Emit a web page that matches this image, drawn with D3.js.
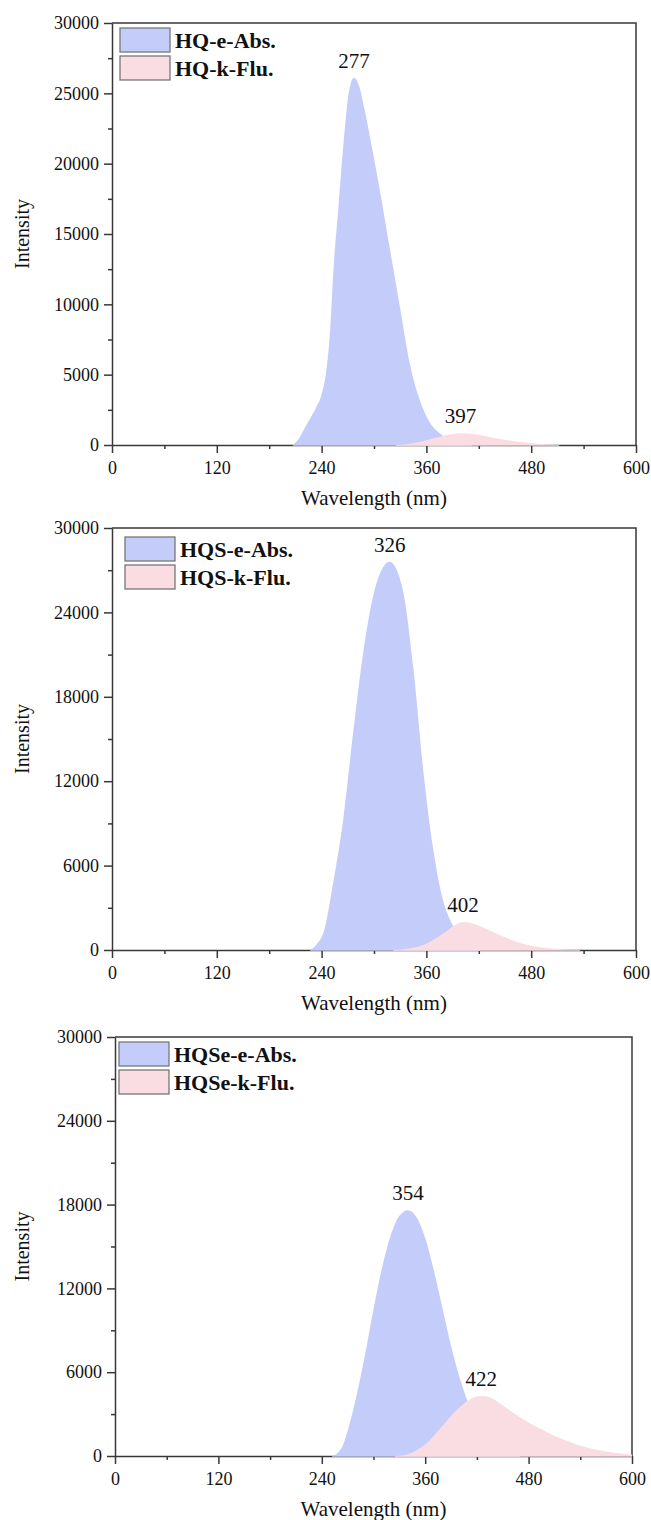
<!DOCTYPE html>
<html>
<head>
<meta charset="utf-8">
<script src="https://cdn.jsdelivr.net/npm/d3@7"></script>
<style>
    body { margin: 0; background: #fff; }
    svg { display: block; }
    svg text { font-family: "Liberation Serif", "Times New Roman", serif; fill: #111; }
    .axis path, .axis line { stroke: #383838; stroke-width: 1.5; }
    .axis text { font-size: 18px; }
</style>
</head>
<body>
<script>

// tick values
var xTicks = [0, 120, 240, 360, 480, 600];
var xMinor = [60, 180, 300, 420, 540];
var yTicksA = [0, 5000, 10000, 15000, 20000, 25000, 30000];
var yMinorA = [2500, 7500, 12500, 17500, 22500, 27500];
var yTicksB = [0, 6000, 12000, 18000, 24000, 30000];
var yMinorB = [3000, 9000, 15000, 21000, 27000];

// legends
var legendHQ = ["HQ-e-Abs.", "HQ-k-Flu."];
var legendHQS = ["HQS-e-Abs.", "HQS-k-Flu."];
var legendHQSe = ["HQSe-e-Abs.", "HQSe-k-Flu."];

// peak labels
var peaksHQ = ["277", "397"];
var peaksHQS = ["326", "402"];
var peaksHQSe = ["354", "422"];

// [wavelength nm, intensity]
var hqAbs = [[207, 0], [215, 550], [221, 1250], [228, 2000], [234, 2700], [240, 3600], [246, 5600], [250, 8400],
    [253, 11900], [259, 16700], [265, 21400], [271, 25000], [277, 26100], [283, 25500], [289, 23900],
    [296, 21700], [307, 18000], [318, 14000], [330, 9700], [341, 5800], [353, 3100], [364, 1600],
    [376, 800], [388, 350], [400, 110], [412, 0]];
var hqFlu = [[325, 0], [340, 80], [355, 250], [370, 500], [385, 730], [399, 840], [412, 800], [425, 660],
    [440, 480], [455, 320], [470, 190], [485, 100], [500, 40], [512, 0]];

var hqsAbs = [[227, 0], [235, 450], [242, 1200], [253, 4700], [265, 9400], [276, 15400], [288, 21300],
    [303, 26100], [318, 27600], [333, 25600], [345, 20100], [356, 13000], [368, 7100], [379, 3550],
    [389, 1900], [402, 570], [412, 150], [422, 0]];
var hqsFlu = [[322, 0], [340, 100], [360, 450], [380, 1200], [392, 1750], [402, 1990], [415, 1850],
    [430, 1450], [450, 900], [470, 450], [490, 200], [510, 70], [536, 0]];

var hqseAbs = [[252, 0], [258, 200], [264, 700], [270, 1800], [276, 3200], [282, 4800], [290, 7200],
    [300, 10500], [310, 13500], [320, 15800], [330, 17200], [340, 17600], [350, 17100], [360, 15600],
    [370, 13300], [380, 10600], [390, 7900], [400, 5600], [410, 3800], [420, 2400], [430, 1400],
    [440, 750], [450, 350], [460, 120], [470, 0]];
var hqseFlu = [[325, 0], [335, 60], [345, 250], [355, 600], [365, 1100], [375, 1800], [385, 2500],
    [395, 3200], [405, 3750], [415, 4150], [425, 4300], [435, 4200], [448, 3700], [462, 3100],
    [477, 2500], [490, 2050], [505, 1600], [520, 1200], [535, 850], [550, 580], [565, 380],
    [580, 230], [595, 130], [600, 110]];

var absColor = "#c4cdfa",
    fluColor = "#fadde2",
    serif = "'Liberation Serif', 'Times New Roman', serif";

var svg = d3.select("body").append("svg")
    .attr("width", 651)
    .attr("height", 1520);

svg.append("rect").attr("width", 651).attr("height", 1520).attr("fill", "#fff");

drawPanel({left: 112, right: 636, top: 23, bottom: 445, legX: 8, legY: 5},
    hqAbs, hqFlu, legendHQ, peaksHQ, yTicksA, yMinorA);
drawPanel({left: 112, right: 636, top: 528, bottom: 950, legX: 13, legY: 9},
    hqsAbs, hqsFlu, legendHQS, peaksHQS, yTicksB, yMinorB);
drawPanel({left: 115, right: 632, top: 1037, bottom: 1456, legX: 4, legY: 5},
    hqseAbs, hqseFlu, legendHQSe, peaksHQSe, yTicksB, yMinorB);

function drawPanel(box, abs, flu, legend, peaks, yTicks, yMinor) {

    var x = d3.scaleLinear().domain([0, 600]).range([box.left, box.right]);
    var y = d3.scaleLinear().domain([0, 30000]).range([box.bottom, box.top]);

    var g = svg.append("g");

    // minor ticks
    g.append("g")
        .attr("class", "axis")
        .attr("transform", "translate(" + box.left + ",0)")
        .call(d3.axisLeft(y).tickValues(yMinor).tickSize(4).tickFormat(""))
        .select(".domain").remove();
    g.append("g")
        .attr("class", "axis")
        .attr("transform", "translate(0," + box.bottom + ")")
        .call(d3.axisBottom(x).tickValues(xMinor).tickSize(4).tickFormat(""))
        .select(".domain").remove();

    g.append("g")
        .attr("class", "axis")
        .attr("transform", "translate(" + box.left + ",0)")
        .call(d3.axisLeft(y).tickValues(yTicks).tickSize(8).tickSizeOuter(0).tickPadding(5)
            .tickFormat(d3.format("d")))
        .attr("font-family", serif);

    g.append("g")
        .attr("class", "axis")
        .attr("transform", "translate(0," + box.bottom + ")")
        .call(d3.axisBottom(x).tickValues(xTicks).tickSize(8).tickSizeOuter(0).tickPadding(8)
            .tickFormat(d3.format("d")))
        .attr("font-family", serif);

    // frame top / right
    g.append("path")
        .attr("d", "M" + x(0) + "," + y(30000) + "H" + x(600) + "V" + y(0))
        .attr("fill", "none")
        .attr("stroke", "#383838")
        .attr("stroke-width", 1.5);

    var area = d3.area()
        .curve(d3.curveMonotoneX)
        .x(function (d) { return x(d[0]); })
        .y0(y(0) + 0.8)
        .y1(function (d) { return y(d[1]); });

    g.append("path").datum(abs).attr("d", area).attr("fill", absColor);
    g.append("path").datum(flu).attr("fill", fluColor).attr("d", area);

    // peak labels above each maximum
    [abs, flu].forEach(function (s, i) {
        var top = s.reduce(function (a, b) { return b[1] > a[1] ? b : a; });
        g.append("text")
            .attr("x", x(top[0]))
            .attr("y", y(top[1]) - 10)
            .attr("text-anchor", "middle")
            .style("font-size", "21px")
            .text(peaks[i]);
    });

    // legend
    var leg = g.append("g")
        .attr("transform", "translate(" + (box.left + box.legX) + "," + (box.top + box.legY) + ")");
    legend.forEach(function (name, i) {
        leg.append("rect")
            .attr("y", i * 28)
            .attr("width", 50)
            .attr("height", 24)
            .attr("fill", i === 0 ? absColor : fluColor)
            .attr("stroke", "#777")
            .attr("stroke-width", 1.3);
        leg.append("text")
            .attr("x", 55)
            .attr("y", i * 28 + 20)
            .style("font-size", "22px")
            .style("font-weight", "bold")
            .text(name);
    });

    g.append("text")
        .attr("x", (box.left + box.right) / 2)
        .attr("y", box.bottom + 60)
        .attr("text-anchor", "middle")
        .style("font-size", "21px")
        .text("Wavelength (nm)");

    g.append("text")
        .attr("transform", "translate(29," + (box.top + box.bottom) / 2 + ") rotate(-90)")
        .attr("text-anchor", "middle")
        .style("font-size", "20px")
        .text("Intensity");
}
</script>
</body>
</html>
